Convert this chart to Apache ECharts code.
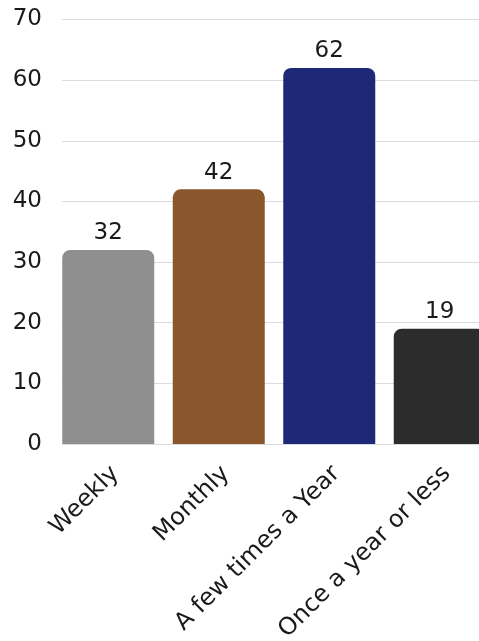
<!DOCTYPE html>
<html>
<head>
<meta charset="utf-8">
<script src="https://cdn.jsdelivr.net/npm/echarts@6/dist/echarts.min.js"></script>
<style>
  html, body { margin: 0; padding: 0; background: #ffffff; overflow: hidden; }
  #chart { width: 500px; height: 641px; }
</style>
</head>
<body>
<div id="chart"></div>
<script>
// Survey frequency categories and response counts
const categories = ['Weekly', 'Monthly', 'A few times a Year', 'Once a year or less'];
const counts = [32, 42, 62, 19];
const barColors = ['#8f8f8f', '#8a562b', '#1d2877', '#2c2c2c'];
const yTicks = { min: 0, max: 70, step: 10 };

const FONT = 'DejaVu Sans';
const TEXT = '#1a1a1a';

const chart = echarts.init(document.getElementById('chart'), null, { renderer: 'canvas' });

chart.setOption({
  animation: false,
  backgroundColor: '#ffffff',
  grid: [
    // bars (the last band runs past the right edge of the view)
    { left: 53, top: 19.5, width: 442, bottom: 197, containLabel: false, outerBoundsMode: 'none' },
    // value scale and horizontal guide lines
    { left: 62, top: 19.5, right: 0, bottom: 197, containLabel: false, outerBoundsMode: 'none' }
  ],
  xAxis: [
    {
      type: 'category',
      gridIndex: 0,
      data: categories,
      axisLine: { show: false },
      axisTick: { show: false },
      axisLabel: {
        rotate: 45,
        margin: 33,
        padding: [0, -10, 0, 0],
        fontFamily: FONT,
        fontSize: 24,
        color: TEXT,
        interval: 0
      }
    },
    {
      type: 'value',
      gridIndex: 1,
      show: false
    }
  ],
  yAxis: [
    {
      type: 'value',
      gridIndex: 0,
      min: yTicks.min,
      max: yTicks.max,
      interval: yTicks.step,
      show: false
    },
    {
      type: 'value',
      gridIndex: 1,
      min: yTicks.min,
      max: yTicks.max,
      interval: yTicks.step,
      axisLine: { show: false },
      axisTick: { show: false },
      splitLine: { show: true, lineStyle: { color: '#dcdcdc', width: 1 } },
      axisLabel: {
        margin: 20,
        fontFamily: FONT,
        fontSize: 23,
        color: TEXT
      }
    }
  ],
  series: [
    {
      type: 'bar',
      xAxisIndex: 0,
      yAxisIndex: 0,
      barWidth: 92,
      z: 3,
      data: counts.map((v, i) => ({
        value: v,
        itemStyle: { color: barColors[i], borderRadius: [8, 8, 0, 0] }
      })),
      label: {
        show: true,
        position: 'top',
        distance: 5,
        fontFamily: FONT,
        fontSize: 23,
        color: TEXT
      }
    }
  ]
});
</script>
</body>
</html>
